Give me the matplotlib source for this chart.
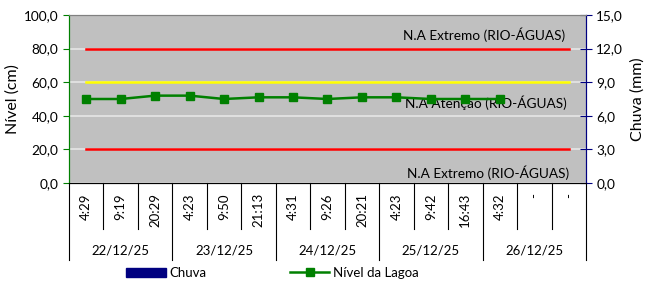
import matplotlib
matplotlib.use("Agg")
import matplotlib.pyplot as plt
from matplotlib.lines import Line2D
from matplotlib.patches import Patch
from matplotlib.ticker import FuncFormatter, MultipleLocator

plt.rcParams['font.family'] = ['Lato', 'DejaVu Sans']

# dados
horas = ["4:29", "9:19", "20:29", "4:23", "9:50", "21:13", "4:31", "9:26",
         "20:21", "4:23", "9:42", "16:43", "4:32", "-", "-"]
datas = ["22/12/25", "23/12/25", "24/12/25", "25/12/25", "26/12/25"]
nivel = [50, 50, 52, 52, 50, 51, 51, 50, 51, 51, 50, 50, 50, None, None]
chuva = [0] * 15
na_extremo_sup = [80] * 15
na_atencao = [60] * 15
na_extremo_inf = [20] * 15

x = list(range(len(horas)))
virgula = FuncFormatter(lambda v, p: f"{v:.1f}".replace(".", ","))

fig = plt.figure(figsize=(6.46, 2.81), dpi=100)
ax = fig.add_axes([0.1068, 0.3488, 0.8003, 0.5978])
ax2 = ax.twinx()

ax.set_facecolor("#c0c0c0")
ax.set_xlim(-0.5, 14.5)
ax.set_ylim(0, 100)
ax.yaxis.set_major_locator(MultipleLocator(20))
ax.yaxis.set_major_formatter(virgula)
ax.grid(axis="y", color="#e6e6e6", lw=1.2)
ax.set_axisbelow(True)

# barras de chuva no eixo secundario
ax2.bar(x, chuva, width=0.6, color="#000080")
ax2.set_ylim(0, 15)
ax2.yaxis.set_major_locator(MultipleLocator(3))
ax2.yaxis.set_major_formatter(virgula)

# limites
ax.plot(x, na_extremo_sup, color="#ff0000", lw=1.8)
ax.plot(x, na_atencao, color="#ffff00", lw=1.8)
ax.plot(x, na_extremo_inf, color="#ff0000", lw=1.8)
ax.plot(x, nivel, color="#008000", lw=1.8, marker="s", ms=5.5, zorder=5)

ax.text(13.9, 88, "N.A Extremo (RIO-ÁGUAS)", ha="right", va="center", fontsize=9.8)
ax.text(13.95, 48, "N.A Atenção (RIO-ÁGUAS)", ha="right", va="center", fontsize=9.8)
ax.text(14.0, 6, "N.A Extremo (RIO-ÁGUAS)", ha="right", va="center", fontsize=9.8)

ax.set_ylabel("Nível (cm)", fontsize=11.5, labelpad=3)
ax2.set_ylabel("Chuva (mm)", fontsize=11.5, labelpad=5)
ax.tick_params(axis="y", labelsize=9.8, colors="#008000", labelcolor="black",
               direction="out", length=4)
ax2.tick_params(axis="y", labelsize=9.8, colors="#000080", labelcolor="black",
                direction="inout", length=8)

for a in (ax, ax2):
    a.spines["top"].set_color("#808080")
    a.spines["left"].set_color("#008000")
    a.spines["right"].set_color("#000080")
    a.spines["bottom"].set_color("black")

# eixo de categorias em dois niveis
ax.set_xticks([])
tr = ax.get_xaxis_transform()
for i, h in enumerate(horas):
    ax.text(i, -0.06, h, rotation=90, ha="center", va="top", fontsize=9.5,
            transform=tr)
for i in range(16):
    b = i - 0.5
    low = -0.458 if i % 3 == 0 else -0.274
    ax.plot([b, b], [0, low], color="black", lw=0.8, transform=tr,
            clip_on=False)
for j, d in enumerate(datas):
    ax.text(3 * j + 1, -0.40, d, ha="center", va="center", fontsize=9.5,
            transform=tr)

handles = [Patch(color="#000080"),
           Line2D([], [], color="#008000", lw=1.8, marker="s", ms=5.5)]
fig.legend(handles, ["Chuva", "Nível da Lagoa"], loc="lower center",
           bbox_to_anchor=(0.422, -0.035), ncol=2, frameon=False, fontsize=9.5,
           columnspacing=6.3, handlelength=3.0, handletextpad=0.3)

fig.savefig("out.png", dpi=100)
